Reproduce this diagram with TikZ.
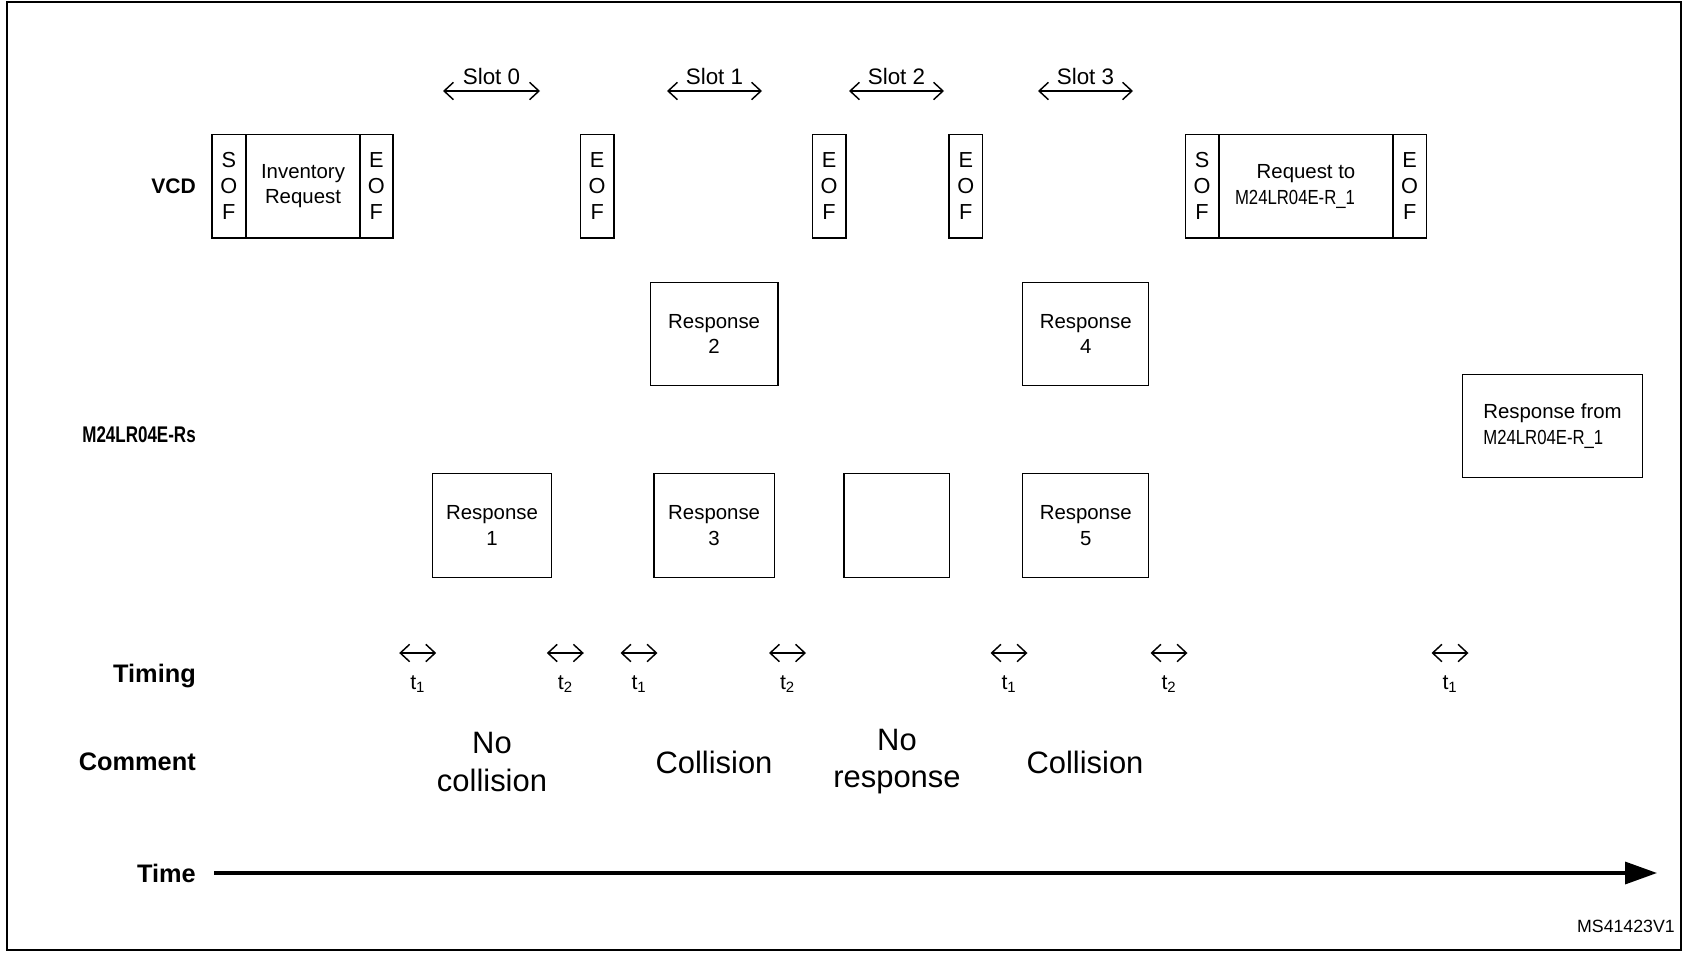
\documentclass[tikz,border=0pt]{standalone}
\usepackage{fontspec}
\setmainfont{Liberation Sans}
\usetikzlibrary{arrows.meta}
\newcommand{\narrowtxt}[1]{\scalebox{0.82}[1]{#1}}
\begin{document}
\begin{tikzpicture}[x=0.75pt,y=-0.75pt,
  rect/.style={draw, line width=1.1pt, inner sep=0pt, align=center, font=\fontsize{15.3}{19.3}\selectfont},
  wpx/.style={minimum width=#1*0.75pt},
  hpx/.style={minimum height=#1*0.75pt},
  frm/.style={rect, hpx=103.7},
  sofbox/.style={frm, wpx=33.5, font=\fontsize{16.3}{19.4}\selectfont},
  resp/.style={rect, hpx=103.5},
  rowlbl/.style={inner sep=0pt, anchor=east, font=\bfseries\fontsize{19}{22}\selectfont},
  slotarr/.style={line width=1.1pt, {Straight Barb[length=7pt,width=13pt,line width=1.1pt]}-{Straight Barb[length=7pt,width=13pt,line width=1.1pt]}},
  slotlbl/.style={inner sep=0pt, font=\fontsize{16.8}{20}\selectfont},
  tarr/.style={line width=1.1pt, {Straight Barb[length=7pt,width=13pt,line width=1.1pt]}-{Straight Barb[length=7pt,width=13pt,line width=1.1pt]}},
  tlbl/.style={inner sep=0pt, font=\fontsize{16}{18}\selectfont},
  cmt/.style={inner sep=0pt, align=center, font=\fontsize{23.2}{27.8}\selectfont},
  timearr/.style={line width=2.6pt, -{Triangle[length=24pt,width=16.5pt]}}
]
\useasboundingbox (0,0) rectangle (1684,953);
\draw[line width=1.9pt] (7,2) rectangle (1681,950);

% row labels
\node[rowlbl, font=\bfseries\fontsize{15.8}{18}\selectfont] (vcd) at (196,186) {VCD};
\node[rowlbl] (tags) at (196,435) {\scalebox{0.75}[1]{\fontsize{17}{20}\selectfont M24LR04E-Rs}};
\node[rowlbl] (timing) at (196,676) {Timing};
\node[rowlbl] (comment) at (196,762) {Comment};
\node[rowlbl] (time) at (196,873) {Time};

% VCD frames
\node[sofbox] (sof1) at (228.75,186.15) {S\\O\\F};
\node[frm, wpx=114] (inv) at (303,186.15) {Inventory\\Request};
\node[sofbox] (eof0) at (376.35,186.15) {E\\O\\F};
\node[sofbox] (eof1) at (597.15,186.15) {E\\O\\F};
\node[sofbox] (eof2) at (829.05,186.15) {E\\O\\F};
\node[sofbox] (eof3) at (965.75,186.15) {E\\O\\F};
\node[sofbox] (sof2) at (1202,186.15) {S\\O\\F};
\node[frm, wpx=174] (req) at (1306,186.15) {Request to\\\narrowtxt{M24LR04E-R\_1}\hspace*{16.5pt}};
\node[sofbox] (eof4) at (1409.65,186.15) {E\\O\\F};

% slots
\coordinate (s0a) at (443,91); \coordinate (s0b) at (540,91);
\coordinate (s1a) at (667,91); \coordinate (s1b) at (762,91);
\coordinate (s2a) at (849,91); \coordinate (s2b) at (944,91);
\coordinate (s3a) at (1038,91); \coordinate (s3b) at (1133,91);
\draw[slotarr] (s0a) -- (s0b);
\draw[slotarr] (s1a) -- (s1b);
\draw[slotarr] (s2a) -- (s2b);
\draw[slotarr] (s3a) -- (s3b);
\node[slotlbl] (l0) at (491.5,76) {Slot 0};
\node[slotlbl] (l1) at (714.5,76) {Slot 1};
\node[slotlbl] (l2) at (896.5,76) {Slot 2};
\node[slotlbl] (l3) at (1085.5,76) {Slot 3};

% responses
\node[resp, wpx=127.7] (r2) at (714.15,334) {Response\\2};
\node[resp, wpx=126] (r4) at (1085.7,334) {Response\\4};
\node[resp, wpx=180.4, align=left] (rf) at (1552.5,426) {Response from\\\narrowtxt{M24LR04E-R\_1}};
\node[resp, wpx=119.4] (r1) at (492,525.5) {Response\\1};
\node[resp, wpx=120.3] (r3) at (714.15,525.5) {Response\\3};
\node[resp, wpx=105.7] (rn) at (896.85,525.5) {};
\node[resp, wpx=126] (r5) at (1085.7,525.5) {Response\\5};

% timing
\foreach \x/\n/\s in {417.7/a/1, 565.3/b/2, 639/c/1, 787.5/d/2, 1009/e/1, 1169/f/2, 1450/g/1}{
  \coordinate (t\n l) at (\x-18.5,653);
  \coordinate (t\n r) at (\x+18.5,653);
  \draw[tarr] (t\n l) -- (t\n r);
  \node[tlbl] (t\n) at (\x,684) {t\textsubscript{\s}};
}

% comments
\node[cmt] (c0) at (492,762) {No\\collision};
\node[cmt] (c1) at (714,762) {Collision};
\node[cmt] (c2) at (897,762) {No\\response};
\node[cmt] (c3) at (1085,762) {Collision};

% time axis
\coordinate (tend) at (1657,873);
\draw[timearr] (time.east) ++(18,0) coordinate (tstart) -- (tend);

\node[inner sep=0pt, anchor=east, font=\fontsize{13.3}{15}\selectfont] (id) at (1675,926) {MS41423V1};
\end{tikzpicture}
\end{document}
